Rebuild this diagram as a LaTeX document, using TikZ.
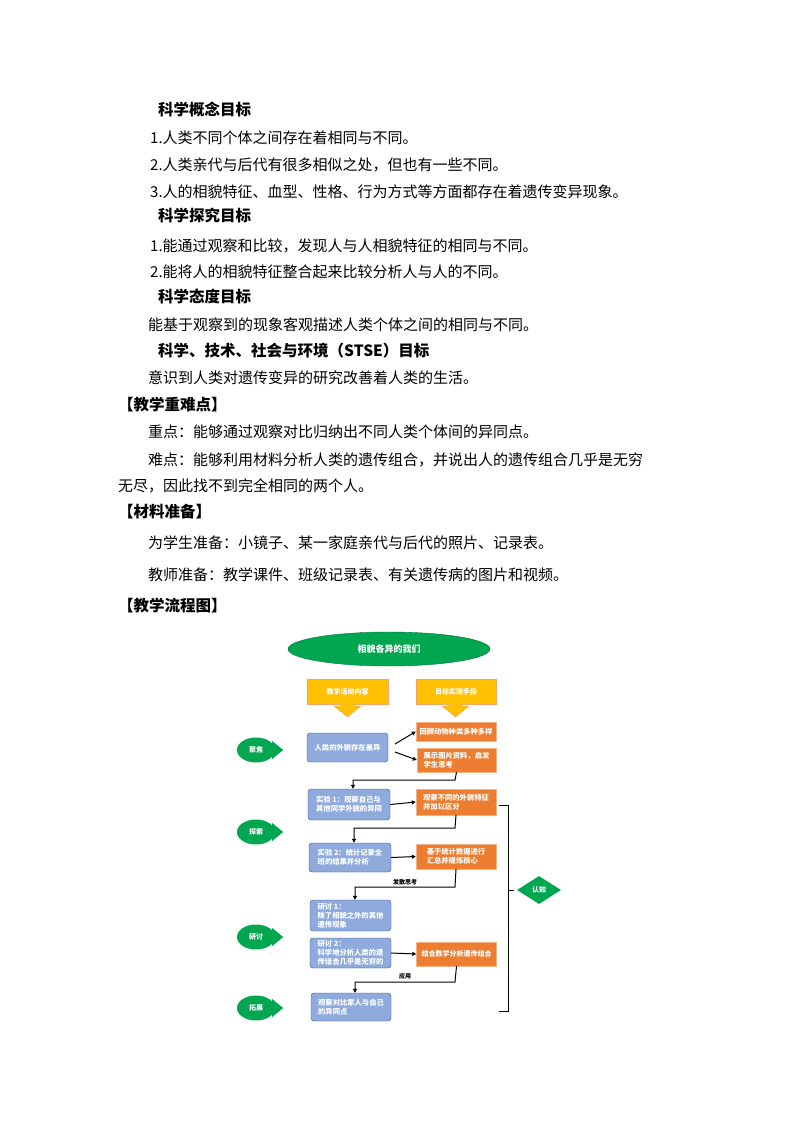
\documentclass[tikz,border=0pt]{standalone}
\usepackage{fontspec}
\setmainfont{Noto Sans CJK SC}
\usetikzlibrary{shapes.geometric,arrows.meta,calc}
\definecolor{gr}{RGB}{0,166,80}
\definecolor{yl}{RGB}{255,192,0}
\definecolor{og}{RGB}{237,125,49}
\definecolor{bl}{RGB}{143,170,220}
\definecolor{bld}{RGB}{47,85,151}
\begin{document}
\begin{tikzpicture}[x=1pt,y=-1pt,
  tx/.style={anchor=west,inner sep=0pt,font=\fontsize{15}{16}\selectfont},
  hd/.style={tx,font=\fontsize{15.5}{16}\selectfont\bfseries},
  blue/.style={draw=bld,fill=bl,rounded corners=3pt,text=white,font=\fontsize{7.3}{9}\selectfont\bfseries,align=left,inner sep=2pt},
  org/.style={draw=og!60,fill=og,text=white,font=\fontsize{7.3}{9}\selectfont\bfseries,align=left,inner sep=2pt},
  yel/.style={draw=og!70,fill=yl,text=white,font=\fontsize{7}{8}\selectfont\bfseries},
  gre/.style={ellipse,fill=gr,text=white,font=\fontsize{7}{8}\selectfont\bfseries,minimum width=38pt,minimum height=25pt,inner sep=0pt},
  ar/.style={-{Triangle[length=4pt,width=4pt]},line width=1pt},
  ln/.style={line width=1pt}]
\useasboundingbox (0,0) rectangle (794,1123);
\node[hd] (h1) at (158,110) {科学概念目标};
\node[tx] (l1) at (150,138) {1.人类不同个体之间存在着相同与不同。};
\node[tx] (l2) at (150,165) {2.人类亲代与后代有很多相似之处，但也有一些不同。};
\node[tx] (l3) at (150,192) {3.人的相貌特征、血型、性格、行为方式等方面都存在着遗传变异现象。};
\node[hd] (h2) at (158,216) {科学探究目标};
\node[tx] (l4) at (150,246) {1.能通过观察和比较，发现人与人相貌特征的相同与不同。};
\node[tx] (l5) at (150,272) {2.能将人的相貌特征整合起来比较分析人与人的不同。};
\node[hd] (h3) at (158,297) {科学态度目标};
\node[tx] (l6) at (148,325) {能基于观察到的现象客观描述人类个体之间的相同与不同。};
\node[hd] (h4) at (158,351) {科学、技术、社会与环境（STSE）目标};
\node[tx] (l7) at (148,378) {意识到人类对遗传变异的研究改善着人类的生活。};
\node[hd] (h5) at (118,405) {【教学重难点】};
\node[tx] (l8) at (148,432) {重点：能够通过观察对比归纳出不同人类个体间的异同点。};
\node[tx] (l9) at (148,460) {难点：能够利用材料分析人类的遗传组合，并说出人的遗传组合几乎是无穷};
\node[tx] (l10) at (118,486) {无尽，因此找不到完全相同的两个人。};
\node[hd] (h6) at (118,512) {【材料准备】};
\node[tx] (l11) at (148,543) {为学生准备：小镜子、某一家庭亲代与后代的照片、记录表。};
\node[tx] (l12) at (148,575) {教师准备：教学课件、班级记录表、有关遗传病的图片和视频。};
\node[hd] (h7) at (118,606) {【教学流程图】};
% flowchart
\node[ellipse,fill=gr,draw=gr!70!black,minimum width=202pt,minimum height=34pt,text=white,font=\fontsize{9}{10}\selectfont\bfseries] (top) at (389,649) {相貌各异的我们};
\node[yel,minimum width=81pt,minimum height=25pt] (y1) at (347.5,691.5) {教学活动内容};
\node[yel,minimum width=80pt,minimum height=25pt] (y2) at (456,691.5) {目标实现手段};
\fill[yl,draw=og!70] (341,704)--(354,704)--(354,706)--(361,706)--(347.5,717)--(334,706)--(341,706)--cycle;
\fill[yl,draw=og!70] (449,704)--(462,704)--(462,706)--(469,706)--(455.5,717)--(442,706)--(449,706)--cycle;
\node[blue,minimum width=81pt,minimum height=29pt] (b1) at (347.5,747.5) {人类的外貌存在差异};
\node[org,minimum width=80pt,minimum height=19pt] (o1) at (456,731.5) {回顾动物种类多种多样};
\node[org,minimum width=79pt,minimum height=24pt] (o2) at (456.5,760) {展示图片资料，启发\\学生思考};
\draw[ar] (395,744) -- (o1.west);
\draw[ar] (395,752) -- (o2.west);
\node[blue,minimum width=82pt,minimum height=31pt] (b2) at (349,804.5) {实验 1：观察自己与\\其他同学外貌的异同};
\node[org,minimum width=80pt,minimum height=26pt] (o3) at (456,802) {观察不同的外貌特征\\并加以区分};
\draw[ar] (b2.east) -- (o3.west);
\draw[ar] (o2.south) -- (455,780) -- (353,780) -- (b2.north-|353,0);
\node[blue,minimum width=82pt,minimum height=29pt] (b3) at (350,857.5) {实验 2：统计记录全\\班的结果并分析};
\node[org,minimum width=80pt,minimum height=25pt] (o4) at (456,856.5) {基于统计数据进行\\汇总并提炼核心};
\draw[ar] (b3.east) -- (o4.west);
\draw[ar] (o3.south) -- (455,828) -- (354,828) -- (b3.north-|354,0);
\node[blue,minimum width=81pt,minimum height=31pt] (b4) at (350.5,915.5) {研讨 1：\\除了相貌之外的其他\\遗传现象};
\node[blue,minimum width=81pt,minimum height=30pt] (b5) at (350.5,953) {研讨 2：\\科学地分析人类的遗\\传组合几乎是无穷的};
\node[org,minimum width=80pt,minimum height=24pt,font=\fontsize{7}{8}\selectfont\bfseries] (o5) at (456.5,954) {结合数学分析遗传组合};
\draw[ar] (b5.east) -- (o5.west);
\draw[ar] (o4.south) -- (455,887) -- (355,887) -- (b4.north-|355,0);
\node[font=\fontsize{6}{7}\selectfont\bfseries] (t1) at (405,882) {发散思考};
\node[blue,minimum width=80pt,minimum height=28pt] (b6) at (351,1007) {观察对比家人与自己\\的异同点};
\draw[ar] (o5.south) -- (455,982) -- (355,982) -- (b6.north-|355,0);
\node[font=\fontsize{6}{7}\selectfont\bfseries] (t2) at (405,976) {应用};
% green side labels
\foreach \n/\t/\yy in {g1/聚焦/750, g2/探索/832, g3/研讨/937, g4/拓展/1008}{
  \node[gre] (\n) at (256,\yy) {\t};
  \fill[gr] ($(\n.east)+(-3,-9)$) -- ($(\n.east)+(8,0)$) -- ($(\n.east)+(-3,9)$) -- cycle;
}
% brace
\coordinate (bt) at (499,805);
\coordinate (bb) at (499,1011);
\draw[ln] (bt) -- (508,805) -- (508,1011) -- (bb);
\draw[ln] (508,890) -- (514,890);
\node[diamond,fill=gr,text=white,font=\fontsize{7}{8}\selectfont\bfseries,minimum width=44pt,minimum height=28pt,inner sep=0pt,aspect=1.6] (dz) at (539,890) {认知};
\end{tikzpicture}
\end{document}
